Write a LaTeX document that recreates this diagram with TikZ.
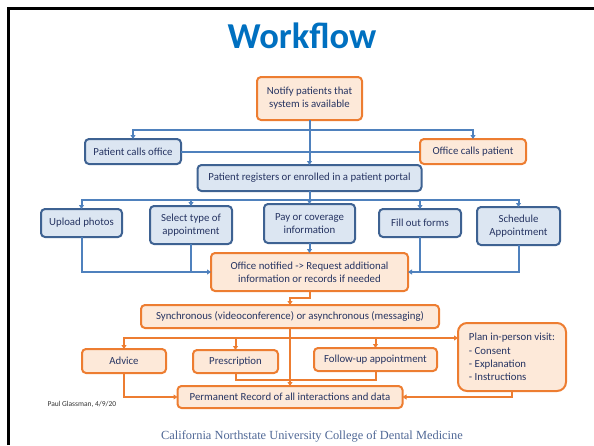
\documentclass[tikz,border=0pt]{standalone}
\usepackage{fontspec}
\setmainfont{Carlito}
\newfontfamily\footfont{Liberation Serif}
\usetikzlibrary{arrows.meta}

\definecolor{bluefill}{RGB}{220,230,242}
\definecolor{blueedge}{RGB}{62,98,146}
\definecolor{blueline}{RGB}{79,129,189}
\definecolor{orangefill}{RGB}{253,233,217}
\definecolor{orangeedge}{RGB}{237,125,49}
\definecolor{boxtext}{RGB}{38,52,98}
\definecolor{titleblue}{RGB}{0,112,192}
\definecolor{footblue}{RGB}{80,104,150}

\tikzset{
  box/.style={rounded corners=4pt, line width=2pt, align=center,
    inner sep=0pt, outer sep=0pt, text=boxtext,
    font=\fontsize{10.8}{13}\selectfont},
  bluebox/.style={box, draw=blueedge, fill=bluefill},
  orangebox/.style={box, draw=orangeedge, fill=orangefill},
  bconn/.style={draw=blueline, line width=2pt},
  oconn/.style={draw=orangeedge, line width=2pt},
  tip/.style={-{Triangle[length=4pt,width=5pt]}},
}

\begin{document}
\begin{tikzpicture}[x=1pt,y=-1pt]
\useasboundingbox (0,0) rectangle (594,445);

% slide frame
\draw[line width=3pt] (8,445) -- (8,8) -- (594,8);

% heading
\node[text=titleblue, font=\fontsize{36.5}{40}\bfseries\selectfont] (title) at (302,36) {Workflow};

% first tier
\node[orangebox, minimum width=105, minimum height=43] (notify) at (309.5,98.5)
  {Notify patients that\\system is available};
\node[bluebox, minimum width=96, minimum height=25] (pcall) at (133,151.5) {Patient calls office};
\node[orangebox, minimum width=106, minimum height=25] (ocall) at (473,151.5) {Office calls patient};
\node[bluebox, minimum width=224, minimum height=26] (reg) at (309.5,178)
  {Patient registers or enrolled in a patient portal};

% portal tasks
\node[bluebox, minimum width=81, minimum height=28] (upload) at (81.5,223) {Upload photos};
\node[bluebox, minimum width=82, minimum height=38] (select) at (191,225) {Select type of\\appointment};
\node[bluebox, minimum width=91, minimum height=39] (pay) at (309.5,223.5) {Pay or coverage\\information};
\node[bluebox, minimum width=82, minimum height=28] (forms) at (420,223) {Fill out forms};
\node[bluebox, minimum width=83, minimum height=38] (sched) at (518.5,226) {Schedule\\Appointment};

\node[orangebox, minimum width=197, minimum height=38] (notif) at (309.5,272)
  {Office notified -> Request additional\\information or records if needed};

% visit
\node[orangebox, minimum width=298, minimum height=23] (sync) at (290,316.5)
  {Synchronous (videoconference) or asynchronous (messaging)};
\node[orangebox, minimum width=84, minimum height=24] (advice) at (124,361) {Advice};
\node[orangebox, minimum width=85, minimum height=23] (presc) at (235.5,361.5) {Prescription};
\node[orangebox, minimum width=123, minimum height=23] (follow) at (375.5,359.5) {Follow-up appointment};
\node[orangebox, minimum width=108, minimum height=68, align=left, rounded corners=9pt,
  font=\fontsize{10.8}{13.3}\selectfont] (plan) at (512,357)
  {Plan in-person visit:\\- Consent\\- Explanation\\- Instructions};
\node[orangebox, minimum width=225, minimum height=22] (perm) at (290,397)
  {Permanent Record of all interactions and data};

% notes
\node[anchor=west, text=black!80, font=\fontsize{7.5}{9}\selectfont] (author) at (44,404) {Paul Glassman, 4/9/20};
\node[text=footblue, font=\footfont\fontsize{12.4}{14}\selectfont] (school) at (312,436)
  {California Northstate University College of Dental Medicine};

% blue connectors
\coordinate (t1) at (309.5,130);
\coordinate (t2) at (309.5,200);
\draw[bconn,tip] (t1) -| (pcall.north);
\draw[bconn,tip] (t1) -| (ocall.north);
\draw[bconn] (pcall.east) -- (ocall.west);
\draw[bconn,tip] (notify.south) -- (reg.north);
\draw[bconn] (reg.south) -- (t2);
\foreach \n in {upload,select,pay,forms,sched}
  \draw[bconn,tip] (t2) -| (\n.north);
\draw[bconn,tip] (upload.south) |- (notif.west);
\draw[bconn] (select.south) -- (select.south |- notif.west);
\draw[bconn,tip] (pay.south) -- (notif.north);
\draw[bconn,tip] (sched.south) |- (notif.east);
\draw[bconn] (forms.south) -- (forms.south |- notif.east);

% orange connectors
\coordinate (t3) at (290,338);
\coordinate (j) at (290,380);
\draw[oconn,tip] (notif.south) -- ++(0,7) -| (sync.north);
\draw[oconn] (sync.south) -- (t3);
\draw[oconn,tip] (t3) -| (advice.north);
\draw[oconn,tip] (t3) -| (presc.north);
\draw[oconn,tip] (t3) -| (follow.north);
\draw[oconn,tip] (t3) -- (t3 -| plan.west);
\draw[oconn,tip] (t3) -- (perm.north);
\draw[oconn,tip] (advice.south) |- (perm.west);
\draw[oconn] (presc.south) |- (j);
\draw[oconn] (follow.south) |- (j);
\draw[oconn,tip] (plan.south) |- (perm.east);
\end{tikzpicture}
\end{document}
